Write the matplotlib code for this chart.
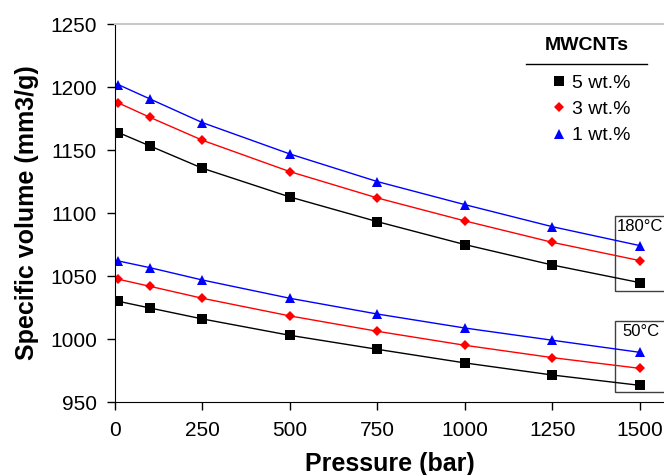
import numpy as np
import matplotlib
matplotlib.use("Agg")
import matplotlib.pyplot as plt
from matplotlib.patches import Rectangle
from matplotlib.lines import Line2D

plt.rcParams['font.family'] = ['Liberation Sans', 'DejaVu Sans']

# pressure (bar)
pressure = [10, 100, 250, 500, 750, 1000, 1250, 1500]

# specific volume at 180 C
v180_5 = [1163.8, 1153.2, 1135.5, 1112.7, 1093.1, 1074.9, 1058.7, 1044.7]
v180_3 = [1187.3, 1175.9, 1157.7, 1132.8, 1111.9, 1093.7, 1076.7, 1062.2]
v180_1 = [1201.8, 1190.5, 1171.7, 1146.8, 1124.9, 1106.6, 1089.1, 1074.1]

# specific volume at 50 C
v50_5 = [1029.9, 1024.6, 1015.9, 1002.9, 991.8, 981.0, 971.4, 963.2]
v50_3 = [1047.4, 1041.8, 1032.3, 1018.3, 1006.1, 995.0, 985.2, 976.7]
v50_1 = [1061.9, 1056.6, 1046.8, 1032.3, 1019.8, 1008.7, 999.0, 989.4]

labels = ['5 wt.%', '3 wt.%', '1 wt.%']
colors = ['black', 'red', 'blue']
markers = ['s', 'D', '^']
msizes = [6.5, 5.5, 7.5]

fig = plt.figure(figsize=(6.64, 4.75), dpi=100)
ax = fig.add_axes([115/664, 1 - 402/475, 1 - 115/664, (402 - 24)/475])

for series in ([v180_5, v180_3, v180_1], [v50_5, v50_3, v50_1]):
    for vals, c, m, ms, lab in zip(series, colors, markers, msizes, labels):
        ax.plot(pressure, vals, color=c, lw=1, marker=m, ms=ms,
                markeredgewidth=0, label=lab)

ax.set_xlim(0, 1568.6)
ax.set_ylim(950, 1250)
ax.set_xticks([0, 250, 500, 750, 1000, 1250, 1500])
ax.set_yticks([950, 1000, 1050, 1100, 1150, 1200, 1250])
ax.tick_params(labelsize=15, length=6, direction='out', width=1)
ax.tick_params(axis='x', pad=8)
ax.tick_params(axis='y', pad=7)
ax.spines['right'].set_visible(False)
ax.spines['top'].set_color('#c8c8c8')
ax.spines['top'].set_linewidth(1.5)

ax.set_xlabel('Pressure (bar)', fontsize=18, fontweight='bold', labelpad=8)
ax.set_ylabel('Specific volume (mm3/g)', fontsize=18, fontweight='bold', labelpad=8)

# temperature boxes
for (y0, y1, txt, tx) in [(1038.1, 1097.9, '180°C', 1433), (958.2, 1014.5, '50°C', 1450)]:
    ax.add_patch(Rectangle((1428.6, y0), 200, y1 - y0, fill=False,
                           edgecolor='#404040', lw=1, clip_on=False, zorder=1))
    ax.text(tx, y1 - 2.5, txt, fontsize=12, va='top', ha='left')

# legend
handles, labs = ax.get_legend_handles_labels()
leg = ax.legend(handles[:3], labs[:3], loc='upper center',
                bbox_to_anchor=(592/664, 1 - 74/475), bbox_transform=fig.transFigure,
                frameon=False, fontsize=14, handlelength=0.5, handletextpad=0.4,
                labelspacing=0.45, borderaxespad=0, borderpad=0)
for h in leg.legend_handles:
    h.set_linestyle('None')

fig.text(587/664, 1 - 46/475, 'MWCNTs', fontsize=14, fontweight='bold',
         ha='center', va='center')
fig.add_artist(Line2D([526/664, 647/664], [1 - 64.3/475, 1 - 64.3/475],
                      color='black', lw=1))

fig.savefig('out.png', dpi=100)
